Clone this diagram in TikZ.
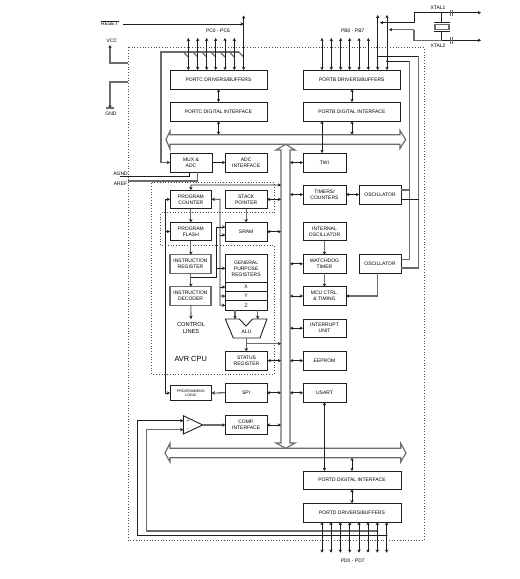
\documentclass[tikz,border=0pt]{standalone}
\usepackage{fontspec}
\setmainfont{Liberation Sans}
\usetikzlibrary{arrows.meta,calc}
\definecolor{lnk}{gray}{0.12}
\definecolor{gln}{gray}{0.42}
\tikzset{
  x=1pt,y=-1pt,
  tip/.tip={Stealth[length=3.2pt,width=3.4pt]},
  conn/.style={line width=.8pt,draw=lnk},
  gconn/.style={line width=1.15pt,draw=gln},
  sgl/.style={conn,-tip},
  dbl/.style={conn,tip-tip},
  gsgl/.style={gconn,-{Stealth[length=3.2pt,width=3.4pt,color=lnk]}},
  box/.style={draw=lnk,line width=.9pt,fill=white,inner sep=0pt,outer sep=0pt,align=center,font=\fontsize{5}{6}\selectfont,text=black},
  gbox/.style={box,draw=gln,line width=1.2pt},
  lbl/.style={inner sep=0pt,align=center,font=\fontsize{5}{6}\selectfont,text=black},
  busline/.style={draw=gln,line width=1.15pt,fill=white,line join=miter},
  dotline/.style={draw=black!70,line width=.75pt,dotted},
  jn/.style={circle,fill=lnk,inner sep=0pt,minimum size=2pt},
}
\newcommand{\bx}[7][box]{%
  \pgfmathsetmacro{\bxcx}{(#3+#5)/2}\pgfmathsetmacro{\bxcy}{(#4+#6)/2}%
  \pgfmathsetmacro{\bxw}{#5-#3}\pgfmathsetmacro{\bxh}{#6-#4}%
  \node[#1,minimum width=\bxw pt,minimum height=\bxh pt] (#2) at (\bxcx,\bxcy) {#7};}
\begin{document}
\begin{tikzpicture}
\useasboundingbox (0,0) rectangle (520,579);
\fill[white] (0,0) rectangle (520,579);

% bus reference coordinates
\coordinate (vbL) at (281,300);
\coordinate (vbR) at (290,300);
\coordinate (cpuL) at (165.5,300);

% chip and cpu outlines
\draw[dotline] (128,47.3) rectangle (424,540);
\draw[dotline] (151.7,182.7) -- (274,182.7) -- (274,212.7) -- (160.7,212.7) -- (160.7,245.3) -- (274,245.3) -- (274,374) -- (151.7,374) -- cycle;

% wide buses
\draw[busline] (170,134.7) -- (400,134.7) -- (400,130.5) -- (405.7,139.5) -- (400,148.5) -- (400,144.3) -- (170,144.3) -- (170,149) -- (166,139.5) -- (170,131) -- cycle;
\draw[busline] (170,448.3) -- (400.7,448.3) -- (400.7,443.3) -- (406,453) -- (400.7,462) -- (400.7,457.7) -- (170,457.7) -- (170,462) -- (165,453) -- (170,443.3) -- cycle;
\draw[busline] (285.7,144.3) -- (295,150) -- (290,150) -- (290,443) -- (295,443) -- (285.7,448.3) -- (276,443) -- (281,443) -- (281,150) -- (276,150) -- cycle;

% boxes
\bx{portcdrv}{170}{70}{267}{89}{PORTC DRIVERS/BUFFERS}
\bx{portcint}{170}{102}{267}{121}{PORTC DIGITAL INTERFACE}
\bx{portbdrv}{303}{70}{400.7}{89}{PORTB DRIVERS/BUFFERS}
\bx{portbint}{303}{102}{400.7}{121}{PORTB DIGITAL INTERFACE}
\bx{mux}{170}{153}{212}{172}{MUX \&\\ADC}
\bx{adcif}{225.3}{153}{267}{172}{ADC\\INTERFACE}
\bx{twi}{303}{153}{346}{172}{TWI}
\bx{pc}{170}{190}{211.7}{208.7}{PROGRAM\\COUNTER}
\bx{sp}{225.3}{190}{267}{208.7}{STACK\\POINTER}
\bx{flash}{170}{222.3}{211.7}{240.7}{PROGRAM\\FLASH}
\bx{sram}{225.3}{222.3}{267}{241}{SRAM}
\bx[gbox]{ir}{170}{254.7}{211}{273.3}{INSTRUCTION\\REGISTER}
\bx[gbox]{id}{170}{286.7}{211}{305.3}{INSTRUCTION\\DECODER}
\bx{gpr}{225.3}{254.7}{267}{282.3}{GENERAL\\PURPOSE\\REGISTERS}
\bx{rx}{225.3}{282.3}{267}{291.7}{X}
\bx{ry}{225.3}{291.7}{267}{300.7}{Y}
\bx{rz}{225.3}{300.7}{267}{310}{Z}
\bx{status}{225.3}{351.3}{267.7}{370}{STATUS\\REGISTER}
\bx{timers}{303}{185}{346}{204}{TIMERS/\\COUNTERS}
\bx{osca}{359}{185}{401}{204}{OSCILLATOR}
\bx{intosc}{303}{222.3}{346}{240.7}{INTERNAL\\OSCILLATOR}
\bx{wdog}{303}{254.7}{346}{273}{WATCHDOG\\TIMER}
\bx{oscb}{359}{254.7}{401}{273}{OSCILLATOR}
\bx{mcu}{303}{286.7}{346}{305.3}{MCU CTRL.\\\& TIMING}
\bx{intu}{303}{319}{346}{337.3}{INTERRUPT\\UNIT}
\bx{eeprom}{303}{351.3}{346}{370}{EEPROM}
\bx{usart}{303}{383.3}{346}{402.3}{USART}
\bx[box,font=\fontsize{3.6}{4.4}\selectfont]{prog}{170}{385.7}{211.7}{400.3}{PROGRAMMING\\LOGIC}
\bx{spi}{225.3}{383.3}{267}{402.3}{SPI}
\bx{comp}{225.3}{415.7}{267}{434.3}{COMP.\\INTERFACE}
\bx{portdint}{303}{471}{401}{489.3}{PORTD DIGITAL INTERFACE}
\bx{portddrv}{303}{503.3}{401}{522}{PORTD DRIVERS/BUFFERS}

% ALU and comparator
\draw[draw=lnk,line width=.9pt,fill=white] (225.3,319) -- (239.3,319) -- (246,326) -- (252.7,319) -- (267,319) -- (260,338) -- (233.3,338) -- cycle;
\node[lbl] (alu) at (246.5,332) {ALU};
\draw[draw=lnk,line width=.9pt,fill=white] (183.3,415.7) -- (202.7,425) -- (183.3,434) -- cycle;
\coordinate (cmpo) at (202.7,425);
\node[lbl] (cmpp) at (188,421) {+};
\node[lbl] (cmpm) at (188,429.5) {-};

% labels
\node[lbl] (reset) at (109.5,24) {\rule[3.9pt]{0pt}{0pt}RESET};
\draw[conn,line width=.5pt] (reset.north west) ++(0,-.4) -- ++(18.2,0);
\node[lbl] (vcc) at (112,41) {VCC};
\node[lbl] (gnd) at (111,114) {GND};
\node[lbl] (pcl) at (218,31) {PC0 - PC6};
\node[lbl] (pbl) at (352.7,31) {PB0 - PB7};
\node[lbl] (pdl) at (352.7,561) {PD0 - PD7};
\node[lbl] (xt1) at (438,8) {XTAL1};
\node[lbl] (xt2) at (438,46) {XTAL2};
\node[lbl] (agnd) at (120.5,174) {AGND};
\node[lbl] (aref) at (120.5,184) {AREF};
\node[lbl,font=\fontsize{5.7}{7}\selectfont] (ctl) at (191,328.2) {CONTROL\\LINES};
\node[lbl,font=\fontsize{7.4}{8}\selectfont] (avr) at (190.7,359) {AVR CPU};

% port C
\draw[gconn] (161,162.5) -- (161,52) -- (239,52);
\foreach \i/\x in {0/188.3,1/197.7,2/206.7,3/215.7,4/225,5/234.3,6/243.7}{
  \coordinate (pc\i) at (\x,38);
  \draw[gconn] (\x-5,52) -- (\x,57);
}
\foreach \i in {0,...,5}{\draw[dbl] (pc\i) -- (pc\i |- portcdrv.north);}
\coordinate (pctop) at (243.7,15.5);
\draw[dbl] (pctop) -- (pctop |- portcdrv.north);
\coordinate (rstend) at (123,24);
\draw[sgl] (rstend) -- (rstend -| pctop);
\draw[gsgl] (161,162.5) -- (mux.west);
\draw[dbl] (portcdrv.south) -- (portcint.north);
\draw[dbl] (portcint.south) -- (218.5,134.7);

% power
\coordinate (vcct) at (110,45);
\draw[gsgl] (128,63) -- (110,63) -- (vcct);
\draw[gconn] (128,82) -- (110,82) -- (110,106);
\draw[gsgl] (110,100) -- (110,108.5);
\draw[gconn] (106,108) -- (114,108);

% analog
\draw[conn] (120,176) -- (189,176) -- (189,172);
\draw[gconn] (128,181) -- (197.7,181) -- (197.7,172);

% port B
\foreach \i/\x in {0/322,1/331.3,2/340.7,3/349.7,4/359,5/368.3}{
  \coordinate (pb\i) at (\x,38);
  \draw[dbl] (pb\i) -- (pb\i |- portbdrv.north);
}
\coordinate (pb6) at (377.7,15);
\coordinate (pb7) at (387,15);
\draw[dbl] (pb6) -- (pb6 |- portbdrv.north);
\draw[dbl] (pb7) -- (pb7 |- portbdrv.north);
\draw[dbl] (352,89) -- (352,102);
\draw[dbl] (352,121) -- (352,134.7);
\draw[dbl] (322,121) -- (322,153);
\draw[dbl] (twi.west) -- (twi.west -| vbR);

% crystal
\coordinate (x1e) at (481,12.7);
\coordinate (x2e) at (481,40.3);
\draw[sgl] (414,22.7) -- (380,22.7);
\draw[conn] (414,22.7) -- (414,12.7) -- (441.7,12.7);
\draw[sgl] (441.7,12.7) -- (x1e);
\draw[gsgl] (414,29.7) -- (389,29.7);
\draw[gconn] (414,29.7) -- (414,40.3) -- (441.7,40.3);
\draw[sgl] (441.7,40.3) -- (x2e);
\draw[conn] (441.7,12.7) -- (441.7,22.5);
\draw[conn] (441.7,31.5) -- (441.7,40.3);
\draw[conn] (434,22.7) -- (450,22.7);
\draw[conn] (434,31) -- (450,31);
\draw[gconn,fill=white] (435,24.5) rectangle (449,29.2);
\foreach \y in {12.7,40.3}{\draw[gconn,line width=.9pt] (450.6,\y-3.2) -- (450.6,\y+3.2) (452.8,\y-3.2) -- (452.8,\y+3.2);}

\draw[conn] (377.7,56.3) -- (418.7,56.3);
\draw[conn] (387,61) -- (409.3,61);
\draw[gconn] (418.7,56.3) -- (418.7,268) -- (oscb.east |- 0,268);
\draw[gconn] (409.3,61) -- (409.3,259.3) -- (oscb.east |- 0,259.3);
\draw[gconn] (osca.east |- 0,190) -- (409.3,190);
\draw[conn] (osca.east |- 0,199) -- (418.7,199);
\node[jn] (jb6) at (377.7,56.3) {};
\node[jn] (jb7) at (387,61) {};

% right column to bus
\foreach \n in {timers,wdog,mcu,intu,eeprom,usart}{\draw[dbl] (\n.west) -- (\n.west -| vbR);}
\draw[dbl] (timers.east) -- (osca.west);
\draw[gsgl] (intosc.south) -- (wdog.north);
\draw[gsgl] (wdog.south) -- (mcu.north);
\draw[gsgl] (377.7,273) -- (377.7,296) -- (mcu.east);

% cpu
\draw[sgl] (mux.east) -- (adcif.west);
\draw[gsgl] (pc.south) -- (flash.north);
\draw[gsgl] (flash.south) -- (ir.north -| flash.south);
\draw[gsgl] (ir.south -| flash.south) -- (id.north -| flash.south);
\draw[gsgl] (id.south -| flash.south) -- (191,319);
\draw[tip-tip,conn] (pc.north) -- (191,185) -- (vbL |- 0,185);
\draw[dbl] (sp.east) -- (sp.east -| vbL);
\draw[dbl] (sram.east) -- (sram.east -| vbL);
\draw[dbl] (status.east) -- (status.east -| vbL);
\draw[gsgl] (sp.south) -- (sram.north);
\draw[tip-tip,conn] (pc.west) -- (cpuL |- pc.west) -- (cpuL |- prog.west) -- (prog.west);
\draw[sgl] (cpuL |- flash.west) -- (flash.west);
\draw[sgl] (spi.west) -- (prog.east);
\draw[dbl] (spi.east) -- (spi.east -| vbL);
% address lines
\draw[tip-tip,conn] (pc.east) -- (220,199.3) -- (220,305.3) -- (rz.west |- 0,305.3);
\draw[sgl] (220,287) -- (rx.west);
\draw[sgl] (220,296) -- (ry.west);
\draw[sgl] (220,235) -- (sram.west |- 0,235);
\draw[conn] (191,277.3) -- (216.7,277.3) -- (216.7,227);
\draw[sgl] (216.7,227) -- (sram.west |- 0,227);
\draw[sgl] (216.7,268.3) -- (gpr.west |- 0,268.3);
% alu
\draw[gsgl] (235,310) -- (235,319);
\draw[gsgl] (257.7,310) -- (257.7,319);
\draw[gsgl] (246.3,338) -- (246.3,351.3);
\draw[gsgl] (246.3,343.7) -- (vbL |- 0,343.7);

% comparator
\draw[gsgl] (cmpo) -- (comp.west);
\draw[dbl] (comp.east) -- (comp.east -| vbL);
\draw[sgl] (386.7,535.7) -- (137.3,535.7) -- (137.3,420.7) -- (183.3,420.7);
\draw[gsgl] (377.3,531) -- (146.7,531) -- (146.7,429.7) -- (183.3,429.7);

% port D
\foreach \i/\x in {0/322,1/331,2/340.3,3/349.7,4/359,5/368,6/377.3,7/386.7}{
  \coordinate (pd\i) at (\x,552.7);
  \draw[dbl] (pd\i) -- (pd\i |- portddrv.south);
}
\node[jn] (jd6) at (377.3,531) {};
\node[jn] (jd7) at (386.7,535.7) {};
\draw[dbl] (352,457.7) -- (352,471);
\draw[dbl] (352,489.3) -- (352,503.3);
\draw[dbl] (usart.south) -- (usart.south |- portdint.north);
\end{tikzpicture}
\end{document}
